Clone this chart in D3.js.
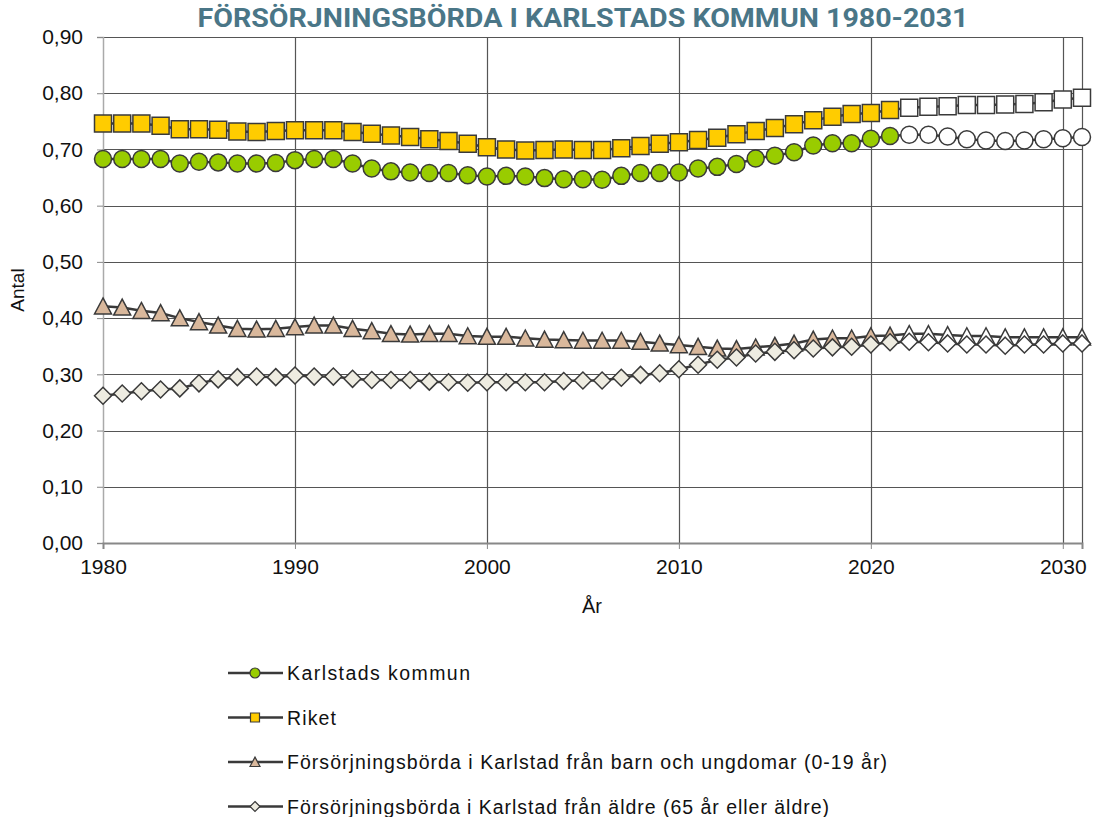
<!DOCTYPE html>
<html>
<head>
<meta charset="utf-8">
<script src="https://cdn.jsdelivr.net/npm/d3@7"></script>
<style>
  body { margin: 0; background: #fff; }
  svg { display: block; }
</style>
</head>
<body>
<script>
// years 1980-2031, values from 2022 are projections (white markers)
const years = d3.range(1980, 2032)
const firstPrognos = 2022

const karlstad = [0.683, 0.683, 0.683, 0.683, 0.675, 0.678, 0.677, 0.675, 0.675, 0.676,
  0.681, 0.683, 0.683, 0.675, 0.666, 0.661, 0.659, 0.658, 0.658, 0.654,
  0.652, 0.653, 0.652, 0.649, 0.647, 0.647, 0.646, 0.653, 0.658, 0.658,
  0.659, 0.666, 0.669, 0.674, 0.684, 0.689, 0.695, 0.707, 0.711, 0.711,
  0.719, 0.724, 0.726, 0.726, 0.723, 0.718, 0.716, 0.715, 0.716, 0.718,
  0.720, 0.722]

const riket = [0.746, 0.746, 0.746, 0.742, 0.736, 0.736, 0.735, 0.732, 0.731, 0.733,
  0.734, 0.734, 0.734, 0.731, 0.728, 0.725, 0.722, 0.718, 0.715, 0.710,
  0.704, 0.700, 0.698, 0.699, 0.700, 0.699, 0.699, 0.702, 0.706, 0.710,
  0.713, 0.717, 0.721, 0.727, 0.733, 0.738, 0.745, 0.752, 0.758, 0.763,
  0.765, 0.770, 0.774, 0.776, 0.777, 0.779, 0.779, 0.780, 0.781, 0.784,
  0.789, 0.792]

const barn = [0.421, 0.419, 0.413, 0.409, 0.400, 0.393, 0.387, 0.381, 0.380, 0.381,
  0.384, 0.387, 0.387, 0.381, 0.377, 0.372, 0.371, 0.372, 0.372, 0.368,
  0.367, 0.367, 0.364, 0.362, 0.361, 0.360, 0.360, 0.360, 0.358, 0.355,
  0.352, 0.349, 0.346, 0.345, 0.348, 0.351, 0.355, 0.362, 0.364, 0.364,
  0.368, 0.369, 0.372, 0.372, 0.370, 0.368, 0.368, 0.366, 0.366, 0.366,
  0.366, 0.366]

const aldre = [0.262, 0.266, 0.270, 0.273, 0.275, 0.284, 0.291, 0.295, 0.296, 0.295,
  0.298, 0.296, 0.296, 0.292, 0.290, 0.290, 0.290, 0.287, 0.286, 0.285,
  0.286, 0.286, 0.286, 0.286, 0.288, 0.289, 0.289, 0.294, 0.299, 0.302,
  0.309, 0.317, 0.326, 0.330, 0.337, 0.340, 0.343, 0.346, 0.348, 0.349,
  0.353, 0.357, 0.358, 0.357, 0.355, 0.353, 0.353, 0.351, 0.353, 0.353,
  0.355, 0.355]

const yTicks = [0, 0.1, 0.2, 0.3, 0.4, 0.5, 0.6, 0.7, 0.8, 0.9]
const xTicks = [1980, 1990, 2000, 2010, 2020, 2030]

const series = [
  { name: 'Karlstads kommun', values: karlstad, shape: 'circle', fill: '#99cc00' },
  { name: 'Riket', values: riket, shape: 'square', fill: '#ffcc00' },
  { name: 'Försörjningsbörda i Karlstad från barn och ungdomar (0-19 år)', values: barn, shape: 'triangle', fill: '#d9b89c' },
  { name: 'Försörjningsbörda i Karlstad från äldre (65 år eller äldre)', values: aldre, shape: 'diamond', fill: '#eeece1' }
]

const width = 1095
const height = 817
const plot = { left: 103, right: 1082, top: 37, bottom: 543 }
const legendTextWidth = [183, 49, 600, 542]

// marker path, s = full width of the marker
function shape(type, s) {
  const h = s / 2
  if (type === 'circle') return d3.symbol(d3.symbolCircle, Math.PI * h * h)()
  if (type === 'square') return `M${-h},${-h}H${h}V${h}H${-h}Z`
  if (type === 'triangle') return `M0,${-h * 0.98}L${h},${h * 0.9}L${-h},${h * 0.9}Z`
  return `M0,${-h}L${h},0L0,${h}L${-h},0Z`
}

const svg = d3.select('body').append('svg')
  .attr('width', width)
  .attr('height', height)
  .style('font-family', '"Liberation Sans", Arial, sans-serif')

const x = d3.scaleLinear().domain([1980, 2031]).range([plot.left, plot.right])
const y = d3.scaleLinear().domain([0, 0.9]).range([plot.bottom, plot.top])
const fmt = v => d3.format('.2f')(v).replace('.', ',')

// gridlines
svg.append('g')
  .selectAll('line')
  .data(yTicks.slice(1))
  .join('line')
  .attr('x1', plot.left).attr('x2', plot.right)
  .attr('y1', d => Math.round(y(d)) + 0.5).attr('y2', d => Math.round(y(d)) + 0.5)
  .attr('stroke', '#555').attr('stroke-width', 1.2)

svg.append('g')
  .selectAll('line')
  .data(xTicks.slice(1).concat([2031]))
  .join('line')
  .attr('x1', d => Math.round(x(d)) + 0.5).attr('x2', d => Math.round(x(d)) + 0.5)
  .attr('y1', plot.top).attr('y2', plot.bottom)
  .attr('stroke', '#555').attr('stroke-width', 1.2)

// y axis
const yAxis = svg.append('g')
  .attr('transform', `translate(${plot.left},0)`)
  .call(d3.axisLeft(y).tickValues(yTicks).tickFormat(fmt).tickSize(6).tickPadding(14))
yAxis.select('.domain').attr('stroke', '#aaa').attr('stroke-width', 1.5)
yAxis.selectAll('.tick line').attr('stroke', '#888')
yAxis.selectAll('.tick text').attr('font-size', 21).attr('fill', '#111')
  .attr('font-family', '"Liberation Sans", Arial, sans-serif')

// x axis
const xAxis = svg.append('g')
  .attr('transform', `translate(0,${plot.bottom})`)
  .call(d3.axisBottom(x).tickValues(xTicks).tickFormat(d3.format('d')).tickSize(6).tickPadding(10))
xAxis.select('.domain').attr('stroke', '#888').attr('stroke-width', 2)
xAxis.selectAll('.tick line').attr('stroke', '#888')
xAxis.selectAll('.tick text').attr('font-size', 21).attr('fill', '#111')
  .attr('font-family', '"Liberation Sans", Arial, sans-serif')

// axis titles
svg.append('text')
  .attr('x', 592).attr('y', 613)
  .attr('text-anchor', 'middle')
  .attr('font-size', 20).attr('fill', '#111')
  .text('År')

svg.append('text')
  .attr('transform', 'translate(24,290) rotate(-90)')
  .attr('text-anchor', 'middle')
  .attr('font-size', 19).attr('fill', '#111')
  .text('Antal')

// title
svg.append('text')
  .attr('x', 583).attr('y', 27)
  .attr('text-anchor', 'middle')
  .attr('font-size', 25).attr('font-weight', 'bold')
  .attr('fill', '#4a7687')
  .attr('textLength', 771).attr('lengthAdjust', 'spacingAndGlyphs')
  .style('font-family', '"Liberation Sans Narrow", Roboto, sans-serif')
  .text('FÖRSÖRJNINGSBÖRDA I KARLSTADS KOMMUN 1980-2031')

// series
const line = d3.line().x(d => x(d.year)).y(d => y(d.value))

series.forEach(s => {
  const pts = years.map((yr, i) => ({ year: yr, value: s.values[i] }))
  const g = svg.append('g')
  g.append('path')
    .datum(pts)
    .attr('d', line)
    .attr('fill', 'none')
    .attr('stroke', '#3a3a3a')
    .attr('stroke-width', 2.5)
  g.selectAll('path.m')
    .data(pts)
    .join('path')
    .attr('class', 'm')
    .attr('transform', d => `translate(${x(d.year)},${y(d.value)})`)
    .attr('d', shape(s.shape, 17))
    .attr('fill', d => d.year >= firstPrognos ? '#fff' : s.fill)
    .attr('stroke', '#3a3a3a')
    .attr('stroke-width', 1.5)
})

// legend
const legend = svg.append('g')
  .selectAll('g')
  .data(series)
  .join('g')
  .attr('transform', (d, i) => `translate(0,${673 + i * 44.5})`)

legend.append('line')
  .attr('x1', 228).attr('x2', 283)
  .attr('stroke', '#3a3a3a').attr('stroke-width', 2.5)

legend.append('path')
  .attr('transform', 'translate(255,0)')
  .attr('d', d => shape(d.shape, d.shape === 'square' ? 9 : 10))
  .attr('fill', d => d.fill)
  .attr('stroke', '#3a3a3a')
  .attr('stroke-width', 1.2)

legend.append('text')
  .attr('x', 287).attr('y', 7)
  .attr('font-size', 19.5).attr('fill', '#111')
  .attr('textLength', (d, i) => legendTextWidth[i])
  .attr('lengthAdjust', 'spacing')
  .text(d => d.name)
</script>
</body>
</html>
